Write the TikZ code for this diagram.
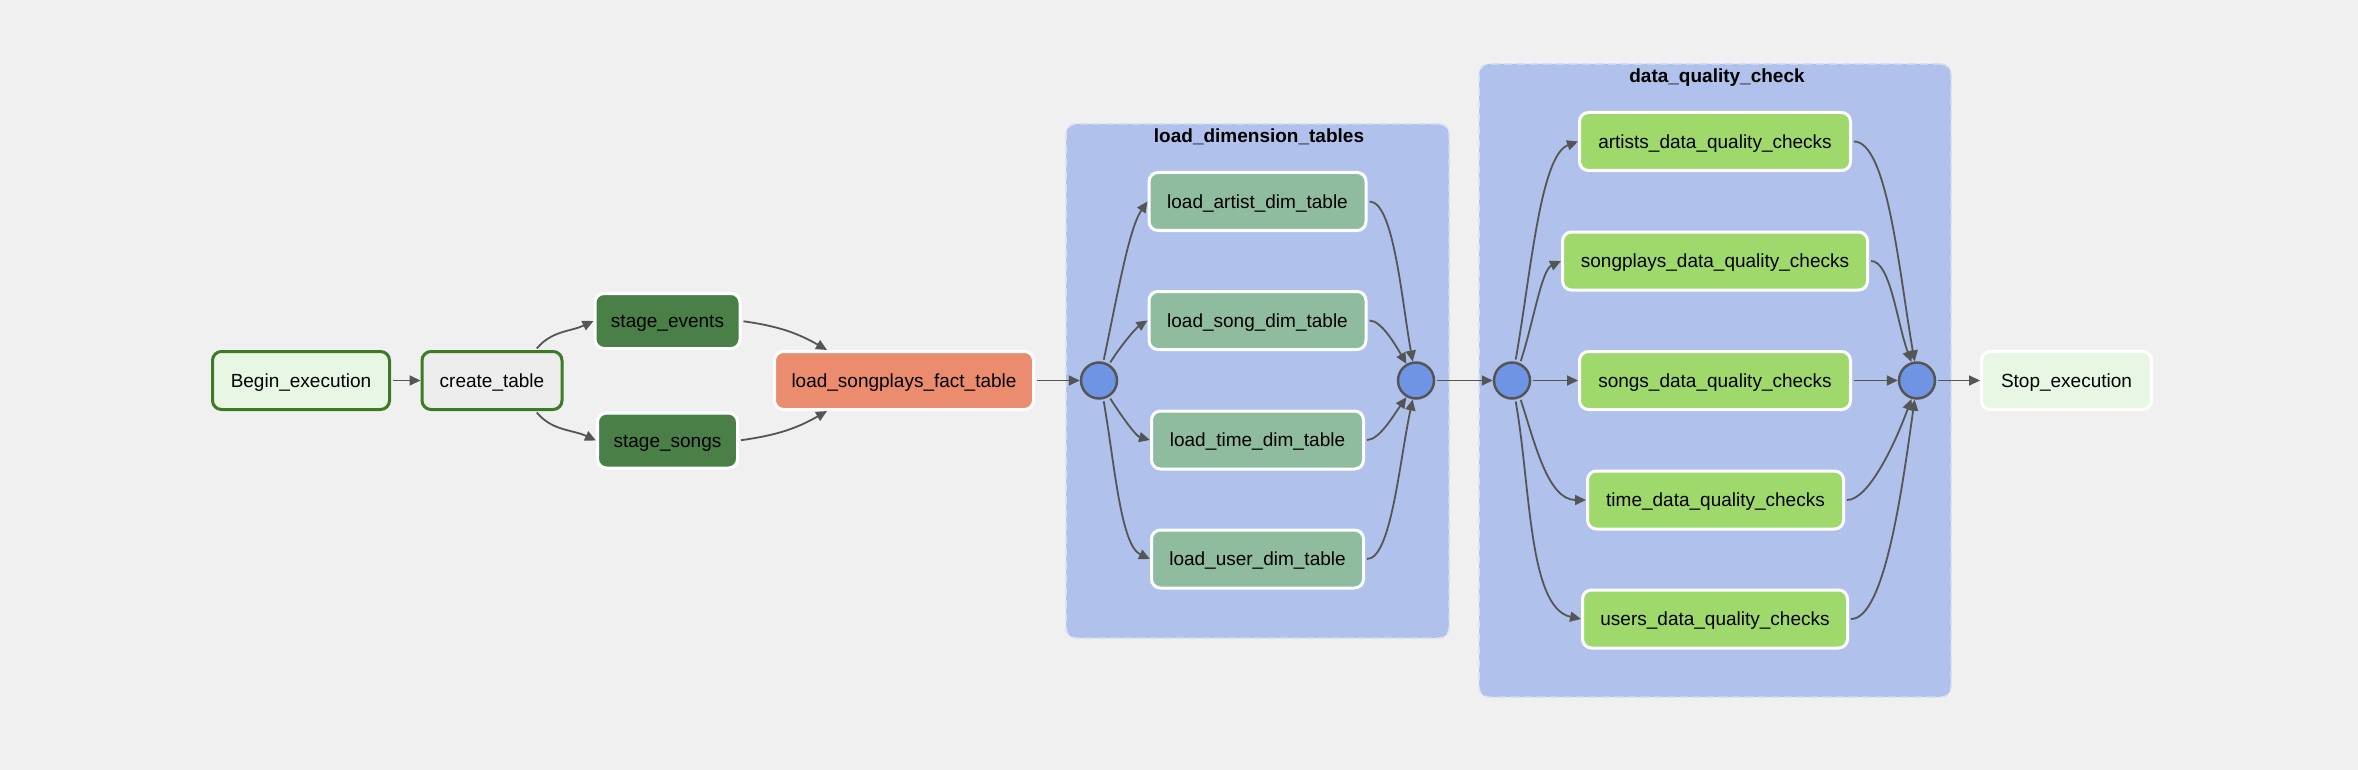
\documentclass[tikz,border=0pt]{standalone}
\usepackage{fontspec}
\setmainfont{Liberation Sans}
\usetikzlibrary{arrows.meta}
\definecolor{bgcol}{HTML}{F0F0F0}
\definecolor{grpfill}{HTML}{B0C2EC}
\definecolor{grpborder}{HTML}{D6DFF5}
\definecolor{jointfill}{HTML}{7094E4}
\definecolor{jointborder}{HTML}{555555}
\definecolor{edgecol}{HTML}{555555}
\definecolor{dummyfill}{HTML}{E8F7E4}
\definecolor{okborder}{HTML}{3D7A26}
\definecolor{createfill}{HTML}{EDEDED}
\definecolor{stagefill}{HTML}{4A7F47}
\definecolor{factfill}{HTML}{EC8C6F}
\definecolor{dimfill}{HTML}{8FBB9F}
\definecolor{dqfill}{HTML}{9FD86B}
\begin{document}
\begin{tikzpicture}[x=1pt,y=1pt,
  task/.style={rectangle, rounded corners=9pt, draw=white, line width=3pt, inner sep=0pt,
    minimum height=58pt, font=\fontsize{19}{23}\selectfont, text=black,
    text height=13.7pt, text depth=0pt},
  okbox/.style={task, draw=okborder},
  joint/.style={circle, draw=jointborder, fill=jointfill, line width=2.5pt, minimum size=36pt, inner sep=0pt},
  edge/.style={draw=edgecol, line width=1.8pt, -{Triangle[length=11pt,width=10pt]}, shorten <=2pt},
  grp/.style={draw=grpborder, fill=grpfill, dash pattern=on 8pt off 5pt, line width=1.5pt,
    rounded corners=10pt, inner sep=0pt},
  grptitle/.style={font=\fontsize{19}{23}\selectfont\bfseries, text=black,
    text height=13.7pt, text depth=0pt}
]
\fill[bgcol] (0,0) rectangle (2358,-770);
\useasboundingbox (0,0) rectangle (2358,-770);

% groups
\node[grp, minimum width=383pt, minimum height=514pt] (g1) at (1257.5,-381) {};
\node[grptitle] (g1t) at (1259,-136) {load\_dimension\_tables};
\node[grp, minimum width=472pt, minimum height=633pt] (g2) at (1715,-380.5) {};
\node[grptitle] (g2t) at (1717,-76) {data\_quality\_check};

% tasks
\node[okbox, fill=dummyfill, minimum width=177pt] (begin) at (301,-380.5) {Begin\_execution};
\node[okbox, fill=createfill, minimum width=140pt] (create) at (492,-380.5) {create\_table};
\node[task, fill=stagefill, minimum width=145pt, minimum height=55pt] (sev) at (667.5,-321) {stage\_events};
\node[task, fill=stagefill, minimum width=140pt, minimum height=55pt] (sso) at (667.5,-440.5) {stage\_songs};
\node[task, fill=factfill, minimum width=259pt] (fact) at (904,-380.5) {load\_songplays\_fact\_table};

\node[joint] (c1) at (1099,-380.5) {};
\node[task, fill=dimfill, minimum width=217pt] (artist) at (1257.5,-201.5) {load\_artist\_dim\_table};
\node[task, fill=dimfill, minimum width=217pt] (song) at (1257.5,-320.5) {load\_song\_dim\_table};
\node[task, fill=dimfill, minimum width=212pt] (time) at (1257.5,-440) {load\_time\_dim\_table};
\node[task, fill=dimfill, minimum width=212pt] (user) at (1257.5,-559) {load\_user\_dim\_table};
\node[joint] (c2) at (1416,-380.5) {};

\node[joint] (c3) at (1512,-380.5) {};
\node[task, fill=dqfill, minimum width=271pt] (qart) at (1715,-141.5) {artists\_data\_quality\_checks};
\node[task, fill=dqfill, minimum width=305pt] (qsp) at (1715,-261) {songplays\_data\_quality\_checks};
\node[task, fill=dqfill, minimum width=271pt] (qsong) at (1715,-380.5) {songs\_data\_quality\_checks};
\node[task, fill=dqfill, minimum width=256pt] (qtime) at (1715.5,-500) {time\_data\_quality\_checks};
\node[task, fill=dqfill, minimum width=265pt] (quser) at (1715,-619) {users\_data\_quality\_checks};
\node[joint] (c4) at (1917,-380.5) {};

\node[task, fill=dummyfill, minimum width=170pt] (stop) at (2066.5,-380.5) {Stop\_execution};

% edges
\draw[edge] (begin.east) -- (create.west);
\draw[edge] ([xshift=-28pt]create.north east) to[out=50,in=205] (sev.west);
\draw[edge] ([xshift=-28pt]create.south east) to[out=-50,in=155] (sso.west);
\draw[edge] (sev.east) to[out=-8,in=150] ([xshift=54pt]fact.north west);
\draw[edge] (sso.east) to[out=8,in=210] ([xshift=54pt]fact.south west);
\draw[edge] (fact.east) -- (c1.west);

\draw[edge] (c1.77) to[out=78,in=235,in looseness=0.5] (artist.west);
\draw[edge] (c1.58) to[out=58,in=213,in looseness=0.6] (song.west);
\draw[edge] (c1.-58) to[out=-58,in=165,in looseness=0.6] (time.west);
\draw[edge] (c1.-77) to[out=-80,in=155,in looseness=0.5] (user.west);

\draw[edge] (artist.east) to[out=0,in=100,out looseness=0.4] (c2.100);
\draw[edge] (song.east) to[out=0,in=120,out looseness=0.6] (c2.120);
\draw[edge] (time.east) to[out=0,in=235,out looseness=0.6] (c2.240);
\draw[edge] (user.east) to[out=0,in=258,out looseness=0.4] (c2.260);

\draw[edge] (c2.east) -- (c3.west);

\draw[edge] (c3.80) to[out=80,in=200,in looseness=0.45] (qart.west);
\draw[edge] (c3.65) to[out=72,in=205,in looseness=0.5] (qsp.west);
\draw[edge] (c3.east) -- (qsong.west);
\draw[edge] (c3.-65) to[out=-72,in=180,in looseness=0.8] (qtime.west);
\draw[edge] (c3.-80) to[out=-80,in=168,in looseness=0.6] (quser.west);

\draw[edge] (qart.east) to[out=0,in=100,out looseness=0.4] (c4.97);
\draw[edge] (qsp.east) to[out=0,in=110,out looseness=0.5] (c4.107);
\draw[edge] (qsong.east) -- (c4.west);
\draw[edge] (qtime.east) to[out=0,in=250,out looseness=0.5] (c4.253);
\draw[edge] (quser.east) to[out=0,in=262,out looseness=0.4] (c4.263);

\draw[edge] (c4.east) -- (stop.west);
\end{tikzpicture}
\end{document}
